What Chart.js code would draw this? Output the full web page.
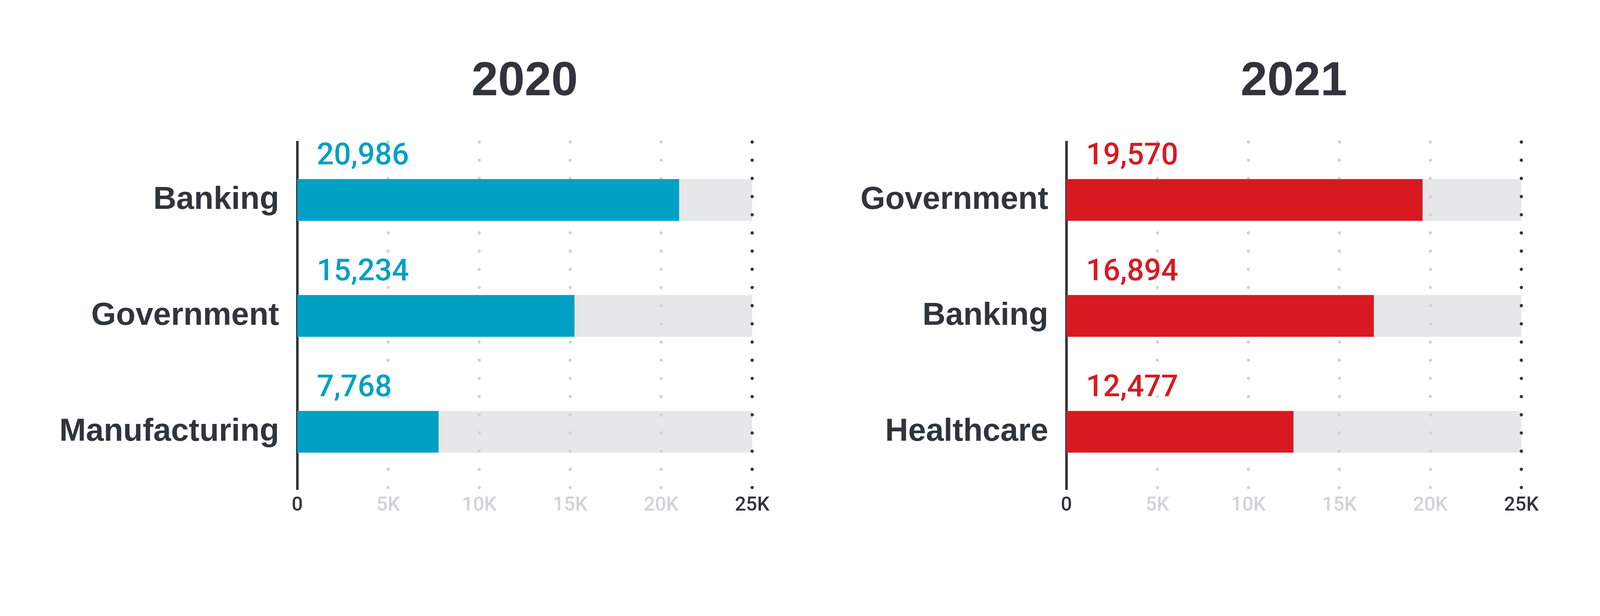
<!DOCTYPE html>
<html>
<head>
<meta charset="utf-8">
<script src="https://cdn.jsdelivr.net/npm/chart.js@4.4.1/dist/chart.umd.min.js"></script>
<style>
  html, body { margin: 0; padding: 0; background: #ffffff; overflow: hidden; }
  canvas { position: absolute; top: 0; display: block; }
</style>
</head>
<body>
<canvas id="c1" width="2207" height="1578"></canvas>
<canvas id="c2" width="2207" height="1578"></canvas>
<script>
// ---- Data ----
const title2020 = "2020";
const categories2020 = ["Banking", "Government", "Manufacturing"];
const values2020 = [20986, 15234, 7768];

const title2021 = "2021";
const categories2021 = ["Government", "Banking", "Healthcare"];
const values2021 = [19570, 16894, 12477];

const axisMax = 25000;
const axisStep = 5000;
const tickLabels = ["0", "5K", "10K", "15K", "20K", "25K"];

// ---- Styles ----
const DARK = "#2f353a";
const LIGHT = "#d1d3d4";
const BG_BAR = "#e6e7e8";
const BLUE = "#00a0c4";
const RED = "#d71a21";
const FONT = "'Liberation Sans', Arial, sans-serif";
const FONT2 = "Roboto, 'Liberation Sans', sans-serif";

// Fit the 4414x1578 design into whatever CSS viewport we get
const W = 4414, H = 1578;
const k = Math.min(window.innerWidth / W, window.innerHeight / H) || 1;
const dpr = (window.devicePixelRatio || 1) * k;
document.body.style.width = (W * k) + 'px';
document.body.style.height = (H * k) + 'px';
['c1', 'c2'].forEach((id, i) => {
  const c = document.getElementById(id);
  c.style.width = (2207 * k) + 'px';
  c.style.height = (H * k) + 'px';
  c.style.left = (i * 2207 * k) + 'px';
});

const dotGridPlugin = {
  id: 'dotGrid',
  afterDatasetDraw(chart, args) {
    if (args.index !== 1) return;
    const x = chart.scales.x;
    const area = chart.chartArea;
    const ctx = chart.ctx;
    ctx.save();
    ctx.lineWidth = 9;
    ctx.lineCap = 'round';
    ctx.setLineDash([0, 50.2]);
    x.ticks.forEach(t => {
      if (t.value === 0) return;
      const px = x.getPixelForValue(t.value);
      ctx.strokeStyle = t.value === axisMax ? DARK : LIGHT;
      ctx.beginPath();
      ctx.moveTo(px, area.top);
      ctx.lineTo(px, area.bottom);
      ctx.stroke();
    });
    ctx.restore();
  }
};

const labelsPlugin = {
  id: 'valueLabels',
  afterDatasetsDraw(chart, args, opts) {
    const ctx = chart.ctx;
    const meta = chart.getDatasetMeta(0);
    const data = chart.data.datasets[0].data;
    ctx.save();
    ctx.font = "500 83px " + FONT2;
    ctx.fillStyle = opts.color;
    ctx.textAlign = 'left';
    ctx.textBaseline = 'alphabetic';
    meta.data.forEach((bar, i) => {
      const p = bar.getProps(['y', 'height'], true);
      ctx.fillText(data[i].toLocaleString('en-US'), chart.chartArea.left + 54, p.y - p.height / 2 - 41);
    });
    ctx.font = "bold 132px " + FONT;
    ctx.fillStyle = DARK;
    ctx.textAlign = 'center';
    const cx = (chart.chartArea.left + chart.chartArea.right) / 2;
    ctx.fillText(opts.title, cx, 263);
    ctx.restore();
  }
};

function makeChart(id, cats, vals, color, title, yWidth, rightPad) {
  new Chart(document.getElementById(id), {
    type: 'bar',
    data: {
      labels: cats,
      datasets: [
        { data: vals, backgroundColor: color, borderWidth: 0, grouped: false,
          categoryPercentage: 1, barPercentage: 0.36 },
        { data: cats.map(() => axisMax), backgroundColor: BG_BAR, borderWidth: 0, grouped: false,
          categoryPercentage: 1, barPercentage: 0.36 }
      ]
    },
    options: {
      indexAxis: 'y',
      responsive: false,
      animation: false,
      devicePixelRatio: dpr,
      layout: { padding: { top: 392, left: 0, right: rightPad, bottom: 0 } },
      plugins: {
        legend: { display: false },
        tooltip: { enabled: false },
        title: { display: false },
        valueLabels: { color: color, title: title }
      },
      scales: {
        x: {
          min: 0, max: axisMax,
          afterFit(s) { s.height = 226; },
          ticks: {
            stepSize: axisStep,
            padding: 12,
            font: { family: FONT2, size: 54, weight: '500' },
            color: c => (c.tick.value === 0 || c.tick.value === axisMax) ? DARK : LIGHT,
            callback: (v, i) => tickLabels[i]
          },
          grid: { display: false, drawTicks: false },
          border: { display: false }
        },
        y: {
          afterFit(s) { s.width = yWidth; },
          ticks: {
            padding: 50,
            font: { family: FONT, size: 88, weight: 'bold' },
            color: DARK
          },
          grid: { display: false, drawTicks: false },
          border: { display: true, color: DARK, width: 7 }
        }
      }
    },
    plugins: [dotGridPlugin, labelsPlugin]
  });
}

makeChart('c1', categories2020, values2020, BLUE, title2020, 820, 132);
makeChart('c2', categories2021, values2021, RED, title2021, 735, 217);
</script>
</body>
</html>
